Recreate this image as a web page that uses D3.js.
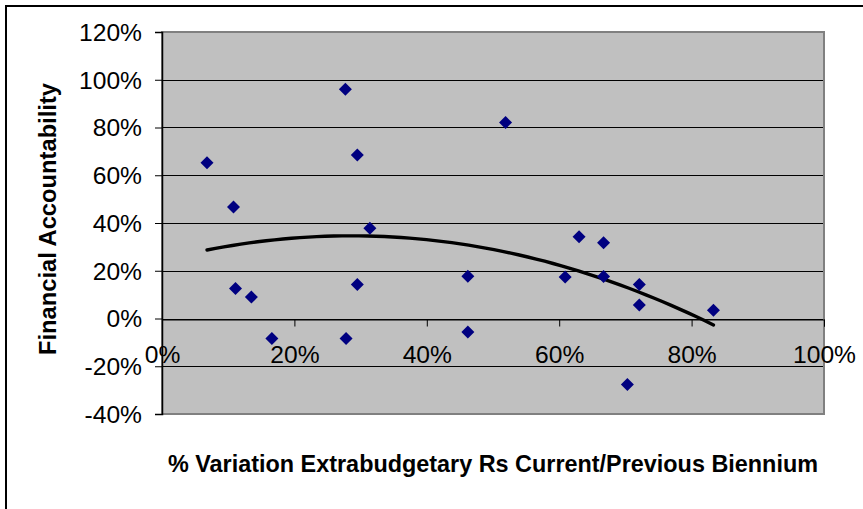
<!DOCTYPE html>
<html>
<head>
<meta charset="utf-8">
<script src="https://cdn.jsdelivr.net/npm/d3@7"></script>
<style>
  html, body { margin: 0; padding: 0; background: #ffffff; }
  svg { display: block; }
  text { font-family: "Liberation Sans", Arial, sans-serif; fill: #000; }
</style>
</head>
<body>
<svg id="chart" width="863" height="509"></svg>
<script>
// % variation of extrabudgetary resources (current vs previous biennium)
const variation = [0.068, 0.108, 0.111, 0.135, 0.166, 0.277, 0.278, 0.295, 0.295, 0.314,
                   0.462, 0.462, 0.519, 0.609, 0.630, 0.667, 0.667, 0.721, 0.721, 0.703, 0.833];
// Financial accountability score for each unit
const accountability = [0.652, 0.467, 0.126, 0.090, -0.084, 0.960, -0.084, 0.685, 0.142, 0.378,
                        0.177, -0.057, 0.821, 0.174, 0.342, 0.317, 0.176, 0.142, 0.057, -0.276, 0.035];

const xTicks = [0, 0.2, 0.4, 0.6, 0.8, 1.0];
const yTicks = [-0.4, -0.2, 0, 0.2, 0.4, 0.6, 0.8, 1.0, 1.2];
const xTitle = "% Variation Extrabudgetary Rs Current/Previous Biennium";
const yTitle = "Financial Accountability";

const svg = d3.select("#chart");

// chart frame (runs off the right and bottom edges)
svg.append("rect")
  .attr("x", 6).attr("y", 6).attr("width", 900).attr("height", 600)
  .attr("fill", "#fff").attr("stroke", "#000").attr("stroke-width", 2);

const x = d3.scaleLinear().domain([0, 1]).range([162, 824]);
const y = d3.scaleLinear().domain([-0.4, 1.2]).range([414, 32]);

const pct = d3.formatLocale({decimal: ".", thousands: ",", grouping: [3],
                             currency: ["", ""], minus: "-"}).format(".0%");

// widen tick labels slightly, as the chart font renders a little broad
function widen(sel, k) {
  sel.each(function () {
    const w = this.getComputedTextLength();
    d3.select(this).attr("textLength", w * k).attr("lengthAdjust", "spacingAndGlyphs");
  });
}

// plot area
svg.append("rect")
  .attr("x", x(0)).attr("y", y(1.2))
  .attr("width", x(1) - x(0)).attr("height", y(-0.4) - y(1.2))
  .attr("fill", "#c0c0c0");

// horizontal gridlines
svg.append("g").selectAll("line")
  .data(yTicks.filter(v => v > -0.4 && v < 1.2))
  .join("line")
  .attr("x1", x(0)).attr("x2", x(1))
  .attr("y1", d => Math.round(y(d)) + 0.5).attr("y2", d => Math.round(y(d)) + 0.5)
  .attr("stroke", "#000").attr("stroke-width", 1);

// plot area border
svg.append("rect")
  .attr("x", x(0)).attr("y", y(1.2))
  .attr("width", x(1) - x(0)).attr("height", y(-0.4) - y(1.2))
  .attr("fill", "none").attr("stroke", "#808080").attr("stroke-width", 2);

// y axis
const yAxis = svg.append("g")
  .attr("transform", `translate(${x(0)},0)`)
  .call(d3.axisLeft(y).tickValues(yTicks).tickFormat(pct).tickSize(7).tickPadding(13));
yAxis.select(".domain").attr("stroke", "#000").attr("stroke-width", 1.5);
yAxis.selectAll(".tick line").attr("stroke", "#000");
yAxis.selectAll(".tick text")
  .style("font-size", "23px").attr("dy", "0.36em")
  .call(widen, 1.07);

// x axis crossing at zero
const xAxis = svg.append("g")
  .attr("transform", `translate(0,${Math.round(y(0)) + 0.5})`)
  .call(d3.axisBottom(x).tickValues(xTicks).tickFormat(pct).tickSize(7).tickPadding(20));
xAxis.select(".domain").attr("stroke", "#000").attr("stroke-width", 1);
xAxis.selectAll(".tick line").attr("stroke", "#000");
xAxis.selectAll(".tick text")
  .style("font-size", "23px").attr("dy", "0.71em")
  .call(widen, 1.07);

// second-order polynomial trend (least squares)
function polyFit(xs, ys) {
  const n = xs.length;
  let s = [0, 0, 0, 0, 0], t = [0, 0, 0];
  for (let i = 0; i < n; i++) {
    const xi = xs[i], yi = ys[i];
    for (let k = 0; k < 5; k++) s[k] += Math.pow(xi, k);
    for (let k = 0; k < 3; k++) t[k] += yi * Math.pow(xi, k);
  }
  const A = [[s[0], s[1], s[2], t[0]], [s[1], s[2], s[3], t[1]], [s[2], s[3], s[4], t[2]]];
  for (let c = 0; c < 3; c++) {
    for (let r = c + 1; r < 3; r++) {
      const f = A[r][c] / A[c][c];
      for (let k = c; k < 4; k++) A[r][k] -= f * A[c][k];
    }
  }
  const b = [0, 0, 0];
  for (let r = 2; r >= 0; r--) {
    let v = A[r][3];
    for (let k = r + 1; k < 3; k++) v -= A[r][k] * b[k];
    b[r] = v / A[r][r];
  }
  return b;
}
const coef = polyFit(variation, accountability);
const xMin = d3.min(variation), xMax = d3.max(variation);
const trend = d3.range(0, 61).map(i => {
  const xv = xMin + (xMax - xMin) * i / 60;
  return [xv, coef[0] + coef[1] * xv + coef[2] * xv * xv];
});
svg.append("path")
  .datum(trend)
  .attr("fill", "none").attr("stroke", "#000").attr("stroke-width", 3.4)
  .attr("stroke-linecap", "round")
  .attr("d", d3.line().x(d => x(d[0])).y(d => y(d[1])));

// data markers
svg.append("g").selectAll("path")
  .data(variation.map((v, i) => [v, accountability[i]]))
  .join("path")
  .attr("transform", d => `translate(${x(d[0])},${y(d[1])})`)
  .attr("d", "M0,-6.5L6.5,0L0,6.5L-6.5,0Z")
  .attr("fill", "#000080");

// axis titles
svg.append("text")
  .attr("x", (x(0) + x(1)) / 2).attr("y", 472)
  .attr("text-anchor", "middle")
  .attr("textLength", 650).attr("lengthAdjust", "spacingAndGlyphs")
  .style("font-size", "24px").style("font-weight", "bold")
  .text(xTitle);

svg.append("text")
  .attr("transform", "translate(56,219) rotate(-90)")
  .attr("text-anchor", "middle")
  .attr("textLength", 272).attr("lengthAdjust", "spacingAndGlyphs")
  .style("font-size", "23px").style("font-weight", "bold")
  .text(yTitle);
</script>
</body>
</html>
